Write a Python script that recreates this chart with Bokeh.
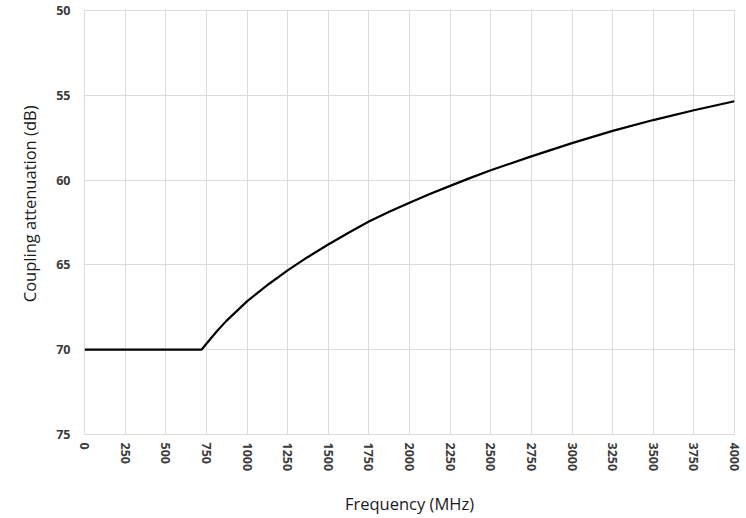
from bokeh.plotting import figure
from bokeh.models import Range1d, FixedTicker, Title
from bokeh.embed import file_html
from bokeh.resources import INLINE

freq_mhz = [0, 250, 500, 720, 750, 816, 873, 1000, 1124, 1250, 1370, 1500, 1625,
            1750, 1875, 2000, 2125, 2250, 2375, 2500, 2750, 3000, 3250, 3500, 3750, 4000]
attenuation_db = [70, 70, 70, 70, 69.65, 68.9, 68.3, 67.15, 66.2, 65.32, 64.56, 63.8,
                  63.1, 62.44, 61.86, 61.33, 60.82, 60.34, 59.87, 59.42, 58.6, 57.82,
                  57.1, 56.46, 55.88, 55.35]
x_ticks = list(range(0, 4001, 250))
y_ticks = [50, 55, 60, 65, 70, 75]

p = figure(width=746, height=518, output_backend="svg", toolbar_location=None,
           x_range=Range1d(0, 4000), y_range=Range1d(75, 50),
           min_border_left=84, min_border_right=12, min_border_top=10, min_border_bottom=84)

p.line(freq_mhz, attenuation_db, line_color="black", line_width=2.2, line_join="round")

grid_c = "#dcdcdc"
p.xgrid.ticker = FixedTicker(ticks=x_ticks)
p.ygrid.ticker = FixedTicker(ticks=y_ticks)
p.xgrid.grid_line_color = grid_c
p.ygrid.grid_line_color = grid_c
p.outline_line_color = grid_c

for ax in (p.xaxis, p.yaxis):
    ax.axis_line_color = None
    ax.major_tick_line_color = None
    ax.minor_tick_line_color = None
    ax.major_tick_out = 0
    ax.major_tick_in = 0
    ax.minor_tick_out = 0
    ax.minor_tick_in = 0
    ax.major_label_text_font = "Open Sans"
    ax.major_label_text_font_size = "12.5px"
    ax.major_label_text_font_style = "bold"
    ax.major_label_text_color = "#3a3a3a"
    ax.axis_label_text_font = "Open Sans"
    ax.axis_label_text_font_size = "16.5px"
    ax.axis_label_text_font_style = "normal"
    ax.axis_label_text_color = "#1a1a1a"

p.xaxis.ticker = FixedTicker(ticks=x_ticks)
p.yaxis.ticker = FixedTicker(ticks=y_ticks)
p.xaxis.major_label_orientation = "vertical"
p.xaxis.axis_label = "Frequency (MHz)"
p.xaxis.axis_label_standoff = 18
p.xaxis.major_label_standoff = 8
p.yaxis.major_label_standoff = 14

ytitle = Title(text="Coupling attenuation (dB)", align="right", offset=95, standoff=26,
               text_font="Open Sans", text_font_size="16.5px", text_font_style="normal",
               text_color="#1a1a1a")
p.add_layout(ytitle, "left")

open("out.html", "w").write(file_html(p, INLINE))
